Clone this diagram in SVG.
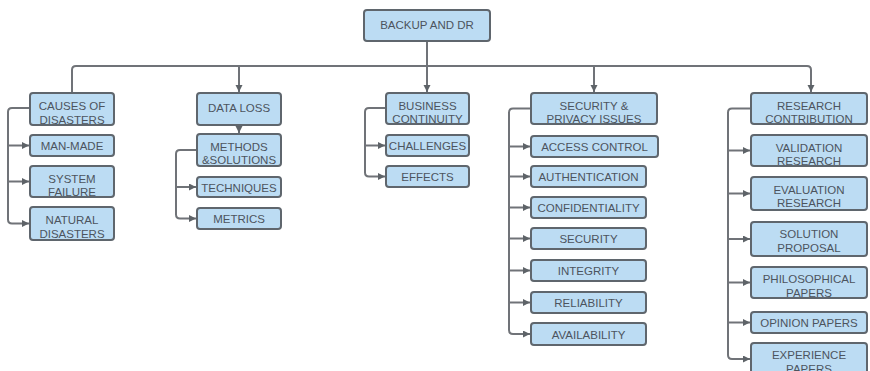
<svg xmlns="http://www.w3.org/2000/svg" width="870" height="371" viewBox="0 0 870 371">
<defs>
<marker id="ah" markerUnits="userSpaceOnUse" markerWidth="8" markerHeight="8" refX="7" refY="3.5" orient="auto">
<path d="M0,0 L7,3.5 L0,7 z" fill="#5e6368"/>
</marker>
<style>
.box rect{fill:#bcdcf3;stroke:#5f666d;stroke-width:2}
.box text{font-family:"Liberation Sans",Arial,sans-serif;font-size:11.5px;fill:#4c545e;text-anchor:middle}
#connectors path{fill:none;stroke:#707378;stroke-width:2}
.a{marker-end:url(#ah)}
</style>
</defs>
<rect width="870" height="371" fill="#ffffff"/>
<g id="connectors">
<path class="a" d="M427,41 V92"/>
<path class="a" d="M72,92 V70 Q72,66 76,66 H807 Q811,66 811,70 V92"/>
<path class="a" d="M239,66 V92"/>
<path class="a" d="M594,66 V92"/>
<path class="a" d="M239,125 V133"/>
<!-- col1 -->
<path class="a" d="M30,108 H12 Q8,108 8,112 V219.5 Q8,223.5 12,223.5 H29"/>
<path class="a" d="M8,145.5 H29"/>
<path class="a" d="M8,181.5 H29"/>
<!-- col2 -->
<path class="a" d="M197,150 H180 Q176,150 176,154 V214.5 Q176,218.5 180,218.5 H196"/>
<path class="a" d="M176,187 H196"/>
<!-- col3 -->
<path class="a" d="M386,108 H369 Q365,108 365,112 V172.5 Q365,176.5 369,176.5 H385"/>
<path class="a" d="M365,145.5 H385"/>
<!-- col4 -->
<path class="a" d="M531,108.5 H513 Q509,108.5 509,112.5 V330 Q509,334 513,334 H530"/>
<path class="a" d="M509,146.5 H530"/>
<path class="a" d="M509,176.5 H530"/>
<path class="a" d="M509,207.5 H530"/>
<path class="a" d="M509,238.5 H530"/>
<path class="a" d="M509,270.5 H530"/>
<path class="a" d="M509,302.5 H530"/>
<!-- col5 -->
<path class="a" d="M751,108.5 H732 Q728,108.5 728,112.5 V355 Q728,359 732,359 H750"/>
<path class="a" d="M728,150.5 H750"/>
<path class="a" d="M728,193.5 H750"/>
<path class="a" d="M728,239 H750"/>
<path class="a" d="M728,282.5 H750"/>
<path class="a" d="M728,322.5 H750"/>
</g>

<g id="backup" class="box"><rect x="364" y="10" width="126" height="31" rx="3"/><text x="427" y="28.5">BACKUP AND DR</text></g>

<g id="causes" class="box"><rect x="30" y="93" width="84" height="32" rx="3"/><text x="72" y="110">CAUSES OF</text><text x="72" y="123.5">DISASTERS</text></g>
<g id="manmade" class="box"><rect x="30" y="135" width="84" height="21" rx="3"/><text x="72" y="150">MAN-MADE</text></g>
<g id="systemfailure" class="box"><rect x="30" y="166" width="84" height="31" rx="3"/><text x="72" y="182.5">SYSTEM</text><text x="72" y="196">FAILURE</text></g>
<g id="natural" class="box"><rect x="30" y="207" width="84" height="33" rx="3"/><text x="72" y="224">NATURAL</text><text x="72" y="237.5">DISASTERS</text></g>

<g id="dataloss" class="box"><rect x="197" y="93" width="84" height="32" rx="3"/><text x="239" y="112">DATA LOSS</text></g>
<g id="methods" class="box"><rect x="197" y="134" width="84" height="32" rx="3"/><text x="239" y="150.5">METHODS</text><text x="239" y="164">&amp;SOLUTIONS</text></g>
<g id="techniques" class="box"><rect x="197" y="177" width="84" height="20" rx="3"/><text x="239" y="191.5">TECHNIQUES</text></g>
<g id="metrics" class="box"><rect x="197" y="208" width="84" height="21" rx="3"/><text x="239" y="223">METRICS</text></g>

<g id="business" class="box"><rect x="386" y="93" width="83" height="31" rx="3"/><text x="427.5" y="110">BUSINESS</text><text x="427.5" y="123">CONTINUITY</text></g>
<g id="challenges" class="box"><rect x="386" y="135" width="83" height="21" rx="3"/><text x="427.5" y="150">CHALLENGES</text></g>
<g id="effects" class="box"><rect x="386" y="166" width="83" height="21" rx="3"/><text x="427.5" y="181">EFFECTS</text></g>

<g id="security-privacy" class="box"><rect x="531" y="93" width="126" height="31" rx="3"/><text x="594" y="110">SECURITY &amp;</text><text x="594" y="123">PRIVACY ISSUES</text></g>
<g id="access" class="box"><rect x="531" y="136" width="127" height="21" rx="3"/><text x="594.5" y="151">ACCESS CONTROL</text></g>
<g id="authentication" class="box"><rect x="531" y="166" width="115" height="21" rx="3"/><text x="588.5" y="181">AUTHENTICATION</text></g>
<g id="confidentiality" class="box"><rect x="531" y="197" width="115" height="21" rx="3"/><text x="588.5" y="212">CONFIDENTIALITY</text></g>
<g id="security" class="box"><rect x="531" y="228" width="115" height="21" rx="3"/><text x="588.5" y="243">SECURITY</text></g>
<g id="integrity" class="box"><rect x="531" y="260" width="115" height="21" rx="3"/><text x="588.5" y="275">INTEGRITY</text></g>
<g id="reliability" class="box"><rect x="531" y="292" width="115" height="21" rx="3"/><text x="588.5" y="307">RELIABILITY</text></g>
<g id="availability" class="box"><rect x="531" y="323" width="115" height="22" rx="3"/><text x="588.5" y="338.5">AVAILABILITY</text></g>

<g id="research" class="box"><rect x="751" y="93" width="116" height="31" rx="3"/><text x="809" y="110">RESEARCH</text><text x="809" y="123">CONTRIBUTION</text></g>
<g id="validation" class="box"><rect x="751" y="135" width="116" height="31" rx="3"/><text x="809" y="151.5">VALIDATION</text><text x="809" y="165">RESEARCH</text></g>
<g id="evaluation" class="box"><rect x="751" y="177" width="116" height="33" rx="3"/><text x="809" y="193.5">EVALUATION</text><text x="809" y="207">RESEARCH</text></g>
<g id="solution" class="box"><rect x="751" y="222" width="116" height="34" rx="3"/><text x="809" y="238">SOLUTION</text><text x="809" y="252">PROPOSAL</text></g>
<g id="philosophical" class="box"><rect x="751" y="267" width="116" height="31" rx="3"/><text x="809" y="283">PHILOSOPHICAL</text><text x="809" y="296.5">PAPERS</text></g>
<g id="opinion" class="box"><rect x="751" y="312" width="116" height="21" rx="3"/><text x="809" y="327">OPINION PAPERS</text></g>
<g id="experience" class="box"><rect x="751" y="343" width="116" height="32" rx="3"/><text x="809" y="359">EXPERIENCE</text><text x="809" y="372.5">PAPERS</text></g>
</svg>
